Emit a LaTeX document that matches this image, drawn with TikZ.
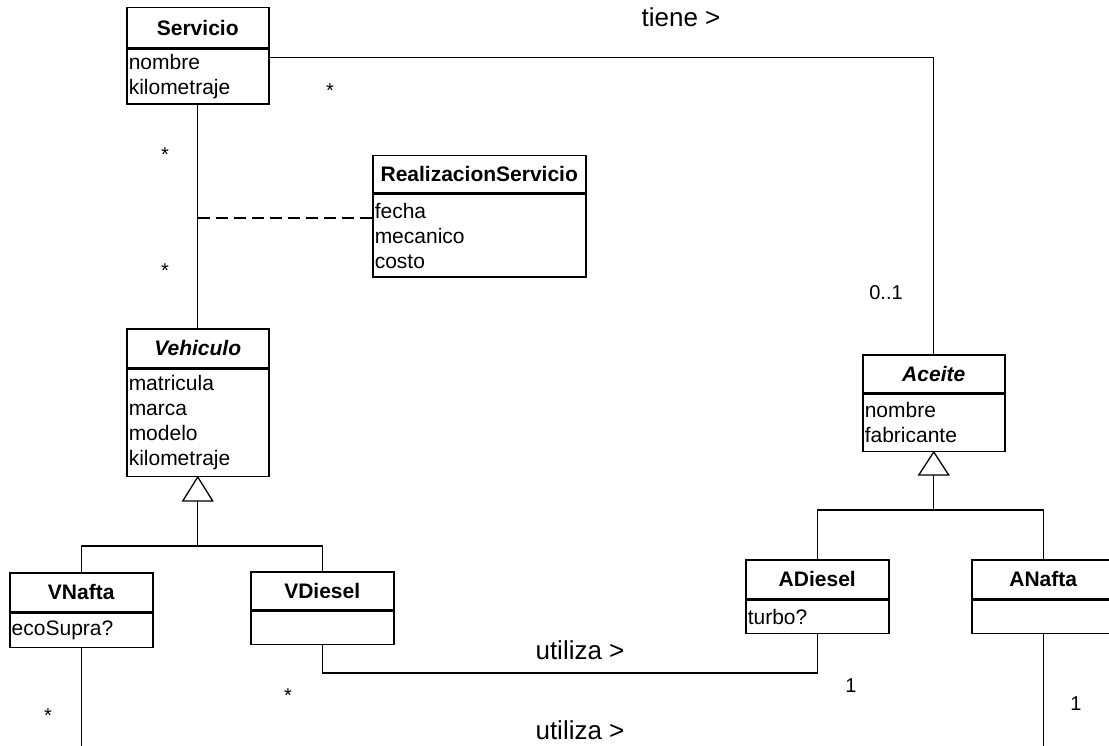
\documentclass[tikz,border=0pt]{standalone}
\usepackage{fontspec}
\setmainfont{Liberation Sans}
\usetikzlibrary{calc}
\begin{document}
\begin{tikzpicture}[x=1pt,y=-1pt,
  box/.style={draw, line width=1.5pt, inner sep=0pt, anchor=north west,
    font=\fontsize{21}{25}\selectfont},
  hdr/.style={box, font=\fontsize{21}{25}\selectfont\bfseries},
  ahdr/.style={box, font=\fontsize{21}{25}\selectfont\bfseries\itshape},
  attrs/.style={box, align=left, inner xsep=2pt, text width=#1-4pt},
  link/.style={line width=1.1pt},
  assoc/.style={line width=1.5pt, dash pattern=on 12pt off 6pt},
  gen/.style={line width=1.3pt, fill=white},
  lbl/.style={anchor=base, inner sep=0pt, font=\fontsize{26}{30}\selectfont},
  mult/.style={anchor=base, inner sep=0pt, font=\fontsize{20}{24}\selectfont}]
\useasboundingbox (0,0) rectangle (1109,746);

% ---- classes ----
\node[hdr, minimum width=142pt, minimum height=40pt] (serv) at (126,7) {Servicio};
\node[attrs=142pt, minimum height=55pt] (serv-a) at (serv.south west) {nombre\\kilometraje};

\node[hdr, minimum width=213pt, minimum height=37pt] (rs) at (372,155) {RealizacionServicio};
\node[attrs=213pt, minimum height=83pt] (rs-a) at (rs.south west) {fecha\\mecanico\\costo};

\node[ahdr, minimum width=142pt, minimum height=39pt] (veh) at (126,328) {Vehiculo};
\node[attrs=142pt, minimum height=107pt] (veh-a) at (veh.south west) {matricula\\marca\\modelo\\kilometraje};

\node[ahdr, minimum width=142pt, minimum height=38pt] (ace) at (862,354) {Aceite};
\node[attrs=142pt, minimum height=57pt] (ace-a) at (ace.south west) {nombre\\fabricante};

\node[hdr, minimum width=143pt, minimum height=39pt] (vn) at (9,572) {VNafta};
\node[attrs=143pt, minimum height=34pt] (vn-a) at (vn.south west) {ecoSupra?};

\node[hdr, minimum width=143pt, minimum height=38pt] (vd) at (250,571) {VDiesel};
\node[attrs=143pt, minimum height=33pt] (vd-a) at (vd.south west) {};

\node[hdr, minimum width=143pt, minimum height=39pt] (ad) at (745,559) {ADiesel};
\node[attrs=143pt, minimum height=33pt] (ad-a) at (ad.south west) {turbo?};

\node[hdr, minimum width=143pt, minimum height=39pt] (an) at (971,559) {ANafta};
\node[attrs=143pt, minimum height=33pt] (an-a) at (an.south west) {};

% ---- associations ----
\draw[link] ($(serv-a.north east)+(0,9)$) -| (ace.north);
\draw[link] (serv-a.south) -- (veh.north);
\coordinate (rsjoin) at ($(serv-a.south)+(0,113)$);
\draw[assoc] (rsjoin) -- (rsjoin -| rs-a.west);
\draw[link] (vd-a.south) -- ++(0,28) -| (ad-a.south);
\coordinate (vnend) at ($(vn-a.south)+(0,120)$);
\coordinate (anend) at ($(an-a.south)+(0,130)$);
\draw[link] (vn-a.south) -- (vnend);
\draw[link] (an-a.south) -- (anend);

% ---- generalizations ----
\coordinate (vjoin) at ($(veh-a.south)+(0,69)$);
\draw[link] ($(veh-a.south)+(0,24)$) -- (vjoin);
\draw[link] (vn.north) |- (vjoin) -| (vd.north);
\draw[gen] (veh-a.south) -- ++(-15,24) -- ++(30,0) -- cycle;

\coordinate (ajoin) at ($(ace-a.south)+(0,58)$);
\draw[link] ($(ace-a.south)+(0,23)$) -- (ajoin);
\draw[link] (ad.north) |- (ajoin) -| (an.north);
\draw[gen] (ace-a.south) -- ++(-15,23) -- ++(30,0) -- cycle;

% ---- labels and multiplicities ----
\node[lbl] (tiene) at (681,27) {tiene >};
\node[lbl] (util1) at (580,659) {utiliza >};
\node[lbl] (util2) at (580,739) {utiliza >};
\node[mult] (m1) at (330,98) {*};
\node[mult] (m2) at (165,162) {*};
\node[mult] (m3) at (165,278) {*};
\node[mult] (m4) at (886,299) {0..1};
\node[mult] (m5) at (288,702) {*};
\node[mult] (m6) at (48,722) {*};
\node[mult] (m7) at (851,692) {1};
\node[mult] (m8) at (1076,710) {1};
\end{tikzpicture}
\end{document}
